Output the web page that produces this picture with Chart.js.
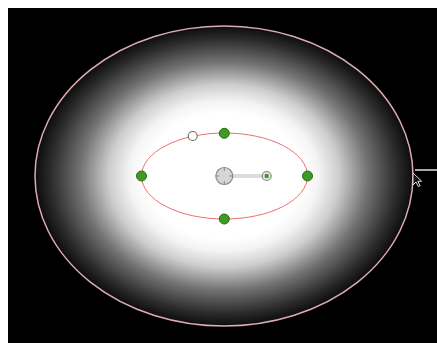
<!DOCTYPE html>
<html>
<head>
<meta charset="utf-8">
<script src="https://cdn.jsdelivr.net/npm/chart.js@4"></script>
<style>
  html { overflow: hidden; }
  body { margin: 0; background: #fff; }
  canvas { position: absolute; left: 8px; top: 8px; }
</style>
</head>
<body>
<canvas id="c" width="429" height="335"></canvas>
<script>
// shape values, in page pixels (x: 8..437, y: 8..343)
const outerCenter = [224, 176];
const outerRadii = [189, 150];
const innerCenter = [224.5, 176];
const innerRadii = [83, 43];

const greenX = [141.5, 307.5, 224.3, 224.3];
const greenY = [176, 176, 133.3, 219];
const hollowX = [192.7];
const hollowY = [136];
const centerX = [224.3];
const centerY = [176];
const offsetX = [266.7];
const offsetY = [176];
const sideLineX = [415, 437];
const sideLineY = [170, 170];
const cursorTip = [413, 173];

// gradient: stop position (0 = centre, 1 = rim) and grey level
const gradStops = [0, 0.42, 0.5, 0.61, 0.76, 0.92, 1];
const gradGrey = [255, 255, 244, 205, 115, 42, 12];

function toPts(xs, ys) {
    return xs.map((x, i) => ({ x: x, y: ys[i] }));
}

function ellipsePx(chart, c, r) {
    const xs = chart.scales.x, ys = chart.scales.y;
    const cx = xs.getPixelForValue(c[0]);
    const cy = ys.getPixelForValue(c[1]);
    const rx = Math.abs(xs.getPixelForValue(c[0] + r[0]) - cx);
    const ry = Math.abs(ys.getPixelForValue(c[1] + r[1]) - cy);
    return { cx, cy, rx, ry };
}

const shapePlugin = {
    id: 'shapes',
    beforeDraw(chart) {
        const ctx = chart.ctx;
        ctx.save();
        ctx.fillStyle = '#000';
        ctx.fillRect(0, 0, chart.width, chart.height);

        // outer ellipse with radial fade
        const o = ellipsePx(chart, outerCenter, outerRadii);
        ctx.save();
        ctx.translate(o.cx, o.cy);
        ctx.scale(1, o.ry / o.rx);
        const g = ctx.createRadialGradient(0, 0, 0, 0, 0, o.rx);
        gradStops.forEach((s, i) => {
            const v = gradGrey[i];
            g.addColorStop(s, `rgb(${v},${v},${v})`);
        });
        ctx.fillStyle = g;
        ctx.beginPath();
        ctx.arc(0, 0, o.rx, 0, Math.PI * 2);
        ctx.fill();
        ctx.restore();

        ctx.beginPath();
        ctx.ellipse(o.cx, o.cy, o.rx, o.ry, 0, 0, Math.PI * 2);
        ctx.strokeStyle = 'rgb(222,172,176)';
        ctx.lineWidth = 1.5;
        ctx.stroke();

        // inner ellipse
        const n = ellipsePx(chart, innerCenter, innerRadii);
        ctx.beginPath();
        ctx.ellipse(n.cx, n.cy, n.rx, n.ry, 0, 0, Math.PI * 2);
        ctx.strokeStyle = 'rgb(238,110,110)';
        ctx.lineWidth = 1;
        ctx.stroke();
        ctx.restore();
    },
    afterDatasetsDraw(chart) {
        const ctx = chart.ctx;
        const xs = chart.scales.x, ys = chart.scales.y;
        ctx.save();

        // crosshair ticks on centre handle
        const cx = xs.getPixelForValue(centerX[0]);
        const cy = ys.getPixelForValue(centerY[0]);
        ctx.strokeStyle = '#888';
        ctx.lineWidth = 1;
        ctx.beginPath();
        ctx.moveTo(cx - 8.5, cy); ctx.lineTo(cx - 5, cy);
        ctx.moveTo(cx + 5, cy); ctx.lineTo(cx + 8.5, cy);
        ctx.moveTo(cx, cy - 8.5); ctx.lineTo(cx, cy - 5);
        ctx.moveTo(cx, cy + 5); ctx.lineTo(cx, cy + 8.5);
        ctx.stroke();

        // green dot inside offset handle
        const ox = xs.getPixelForValue(offsetX[0]);
        const oy = ys.getPixelForValue(offsetY[0]);
        ctx.fillStyle = '#3f9a25';
        ctx.beginPath();
        ctx.arc(ox, oy, 2.2, 0, Math.PI * 2);
        ctx.fill();

        // mouse cursor
        const tx = xs.getPixelForValue(cursorTip[0]);
        const ty = ys.getPixelForValue(cursorTip[1]);
        const k = 0.75;
        const arrow = [[0, 0], [0, 16], [4, 12], [7, 18], [9.5, 17], [6.5, 11], [11.5, 11]];
        ctx.beginPath();
        arrow.forEach((p, i) => {
            const px = tx + p[0] * k, py = ty + p[1] * k;
            if (i === 0) ctx.moveTo(px, py); else ctx.lineTo(px, py);
        });
        ctx.closePath();
        ctx.fillStyle = '#111';
        ctx.fill();
        ctx.strokeStyle = '#ddd';
        ctx.lineWidth = 1;
        ctx.stroke();
        ctx.restore();
    }
};

new Chart(document.getElementById('c'), {
    type: 'scatter',
    data: {
        datasets: [
            {
                label: 'green',
                data: toPts(greenX, greenY),
                pointRadius: 5,
                backgroundColor: '#3d9b22',
                borderColor: '#2a6b17',
                borderWidth: 1,
                order: 1
            },
            {
                label: 'hollow',
                data: toPts(hollowX, hollowY),
                pointRadius: 4.5,
                backgroundColor: '#fff',
                borderColor: '#6f6f6f',
                borderWidth: 1.2,
                order: 1
            },
            {
                label: 'centre',
                data: toPts(centerX, centerY),
                pointRadius: 8.5,
                backgroundColor: '#d6d6d6',
                borderColor: '#8a8a8a',
                borderWidth: 1.2,
                order: 1
            },
            {
                label: 'offset',
                data: toPts(offsetX, offsetY),
                pointRadius: 4.5,
                backgroundColor: '#e4e4e4',
                borderColor: '#8a8a8a',
                borderWidth: 1.2,
                order: 1
            },
            {
                type: 'line',
                label: 'link',
                data: toPts([centerX[0], offsetX[0]], [centerY[0], offsetY[0]]),
                borderColor: '#dcdcdc',
                borderWidth: 4,
                pointRadius: 0,
                order: 5
            },
            {
                type: 'line',
                label: 'side',
                data: toPts(sideLineX, sideLineY),
                borderColor: '#a8a8a8',
                borderWidth: 2,
                pointRadius: 0,
                order: 5
            }
        ]
    },
    options: {
        responsive: false,
        animation: false,
        layout: { padding: 0, autoPadding: false },
        plugins: {
            legend: { display: false },
            tooltip: { enabled: false }
        },
        scales: {
            x: { type: 'linear', min: 8, max: 437, display: false },
            y: { type: 'linear', min: 8, max: 343, reverse: true, display: false }
        }
    },
    plugins: [shapePlugin]
});
</script>
</body>
</html>
